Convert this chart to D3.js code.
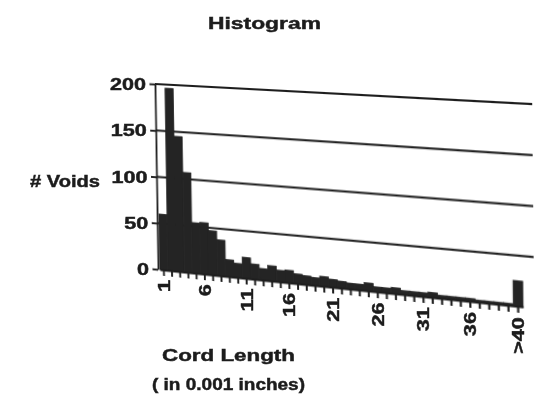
<!DOCTYPE html>
<html>
<head>
<meta charset="utf-8">
<script src="https://cdn.jsdelivr.net/npm/d3@7"></script>
<style>
  body { margin: 0; background: #fff; }
  #chart { position: relative; width: 535px; height: 398px; overflow: hidden; }
  #chart svg { position: absolute; left: 0; top: 0; }
  .lbl { font-family: "Liberation Sans", Arial, Helvetica, sans-serif; font-weight: bold; fill: #1c1c1c; stroke: #1c1c1c; stroke-width: 0.45; }
</style>
</head>
<body>
<div id="chart"></div>
<script>
// histogram data
const categories = ["1", "2", "3", "4", "5", "6", "7", "8", "9", "10",
  "11", "12", "13", "14", "15", "16", "17", "18", "19", "20",
  "21", "22", "23", "24", "25", "26", "27", "28", "29", "30",
  "31", "32", "33", "34", "35", "36", "37", "38", "39", "40", ">40"];
const voids = [60, 196, 145, 107, 54, 55, 47, 38, 18, 15,
  22, 16, 12, 16, 12, 13, 10, 9, 8, 10,
  8, 7, 6, 6, 8, 5, 5, 6, 4, 4,
  4, 5, 3, 3, 3, 3, 2, 2, 2, 2, 25];
const xTickLabels = ["1", "6", "11", "16", "21", "26", "31", "36", ">40"];
const yTicks = [0, 50, 100, 150, 200];
const gridValues = [50, 100, 150, 200];

const W = 360, H = 185, m = 20;
const ink = '#1e1e1e';
const sx = 1.35; // the scanned font is much wider than Arial

// where the plot corners sit in the photographed page (it is seen in perspective)
const TL = [155, 84], TR = [521, 103.5], BR = [523, 306.7], BL = [158, 269.3];

// square -> quad homography
function squareToQuad(p0, p1, p2, p3) {
  const dx1 = p1[0] - p2[0], dx2 = p3[0] - p2[0], dx3 = p0[0] - p1[0] + p2[0] - p3[0];
  const dy1 = p1[1] - p2[1], dy2 = p3[1] - p2[1], dy3 = p0[1] - p1[1] + p2[1] - p3[1];
  const den = dx1 * dy2 - dx2 * dy1;
  const g = (dx3 * dy2 - dx2 * dy3) / den;
  const h = (dx1 * dy3 - dx3 * dy1) / den;
  return {
    a: p1[0] - p0[0] + g * p1[0], b: p3[0] - p0[0] + h * p3[0], c: p0[0],
    d: p1[1] - p0[1] + g * p1[1], e: p3[1] - p0[1] + h * p3[1], f: p0[1],
    g: g, h: h
  };
}
const hm = squareToQuad(TL, TR, BR, BL);

// plot coords -> page coords
function proj(X, Y) {
  const u = X / W, v = Y / H;
  const w = hm.g * u + hm.h * v + 1;
  return [(hm.a * u + hm.b * v + hm.c) / w, (hm.d * u + hm.e * v + hm.f) / w];
}

const x = d3.scaleBand()
  .domain(categories)
  .range([2, W])
  .padding(0);

const y = d3.scaleLinear()
  .domain([0, 200])
  .range([H, 0]);

const chart = d3.select('#chart');

// Warped layer: bars, grid and axes
const A = hm.a / W, B = hm.b / H, C = hm.c - hm.a * m / W - hm.b * m / H;
const D = hm.d / W, E = hm.e / H, F = hm.f - hm.d * m / W - hm.e * m / H;
const G = hm.g / W, Hh = hm.h / H, I = 1 - hm.g * m / W - hm.h * m / H;

const warped = chart.append('svg')
  .attr('width', W + 2 * m + 20)
  .attr('height', H + 2 * m)
  .style('transform-origin', '0 0')
  .style('transform', `matrix3d(${A},${D},0,${G},${B},${E},0,${Hh},0,0,1,0,${C},${F},0,${I})`);

const g = warped.append('g')
  .attr('transform', `translate(${m},${m})`);

// gridlines (behind bars), running a little past the last bar
g.selectAll('line.grid')
  .data(gridValues)
  .enter()
  .append('line')
  .attr('class', 'grid')
  .attr('x1', 0)
  .attr('x2', W + 10)
  .attr('y1', d => y(d))
  .attr('y2', d => y(d))
  .attr('stroke', ink)
  .attr('stroke-width', 1.8);

// bars - stroked too so no seams show between them
g.selectAll('rect')
  .data(voids)
  .enter()
  .append('rect')
  .attr('x', (d, i) => x(categories[i]))
  .attr('y', d => y(d))
  .attr('width', x.bandwidth())
  .attr('height', d => H - y(d))
  .attr('fill', '#242424')
  .attr('stroke', '#242424')
  .attr('stroke-width', 0.8);

// Y axis
g.append('g')
  .call(d3.axisLeft(y).tickValues(yTicks).tickSize(6).tickSizeOuter(0).tickFormat(''))
  .call(s => s.selectAll('path, line').attr('stroke', ink).attr('stroke-width', 1.9));

// X axis, a tick under every bar
g.append('g')
  .attr('transform', `translate(0,${H})`)
  .call(d3.axisBottom(x).tickSize(6).tickSizeOuter(0).tickFormat(''))
  .call(s => s.selectAll('path, line').attr('stroke', ink).attr('stroke-width', 2));

// Flat layer: all the text
const svg = chart.append('svg')
  .attr('width', 535)
  .attr('height', 398);

// free-standing labels, widths
svg.append('text')
  .attr('class', 'lbl')
  .attr('x', 208).attr('y', 29)
  .attr('textLength', 113).attr('lengthAdjust', 'spacingAndGlyphs')
  .style('font-size', '17px')
  .text('Histogram');

svg.append('text')
  .attr('class', 'lbl')
  .attr('x', 30).attr('y', 187)
  .attr('textLength', 70).attr('lengthAdjust', 'spacingAndGlyphs')
  .style('font-size', '16px')
  .text('# Voids');

svg.append('text')
  .attr('class', 'lbl')
  .attr('x', 162).attr('y', 361)
  .attr('textLength', 133).attr('lengthAdjust', 'spacingAndGlyphs')
  .style('font-size', '16.5px')
  .text('Cord Length');

svg.append('text')
  .attr('class', 'lbl')
  .attr('x', 152).attr('y', 390)
  .attr('textLength', 153).attr('lengthAdjust', 'spacingAndGlyphs')
  .style('font-size', '16px')
  .text('( in 0.001 inches)');

// y tick labels
svg.selectAll('text.ytick')
  .data(yTicks)
  .enter()
  .append('text')
  .attr('class', 'lbl ytick')
  .attr('transform', d => {
    const p = proj(0, y(d));
    return `translate(${p[0] - 9},${p[1] + 6}) scale(${sx},1)`;
  })
  .attr('text-anchor', 'end')
  .style('font-size', '16px')
  .text(d => d);

// x tick labels, turned up the page
svg.selectAll('text.xtick')
  .data(xTickLabels)
  .enter()
  .append('text')
  .attr('class', 'lbl xtick')
  .attr('transform', d => {
    const p = proj(x(d) + x.bandwidth() / 2, H + 10);
    return `translate(${p[0]},${p[1]}) rotate(-90) scale(${sx},1)`;
  })
  .attr('text-anchor', 'end')
  .attr('dy', '0.36em')
  .style('font-size', '16px')
  .text(d => d);
</script>
</body>
</html>
